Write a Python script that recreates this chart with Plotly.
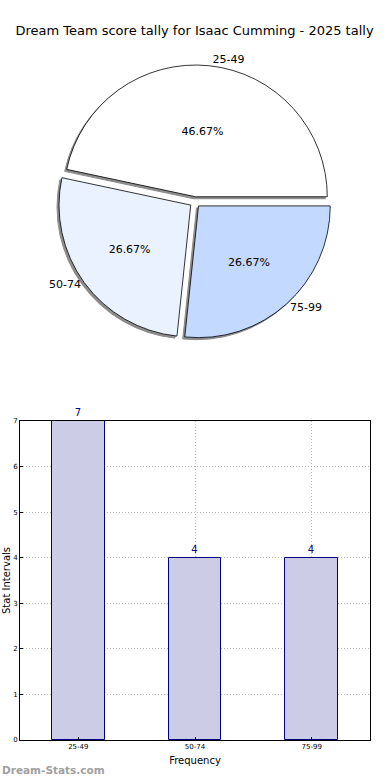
import plotly.graph_objects as go

categories = ["25-49", "50-74", "75-99"]
counts = [7, 4, 4]
pie_colors = ["#ffffff", "#eaf1ff", "#c4d9ff"]
y_ticks = [0, 1, 2, 3, 4, 5, 6, 7]
title_text = "Dream Team score tally for Isaac Cumming - 2025 tally"

FONT = "DejaVu Sans"
W, H = 390, 780


def px_x(x):
    return x / W


def px_y(y):
    return 1 - y / H


fig = go.Figure()

# pie geometry (pixels)
cx, cy, half = 195, 202, 137
pie_domain = dict(x=[px_x(cx - 180), px_x(cx + 180)], y=[px_y(cy + half), px_y(cy - half)])
shadow_domain = dict(x=[px_x(cx - 180 - 2), px_x(cx + 180 - 2)],
                     y=[px_y(cy + half + 2), px_y(cy - half + 2)])
pull = [0.04, 0.04, 0.04]
common = dict(labels=categories, values=counts, sort=False, direction="counterclockwise",
              rotation=-78, pull=pull, showlegend=False)

# shadow
fig.add_trace(go.Pie(
    **common, domain=shadow_domain,
    marker=dict(colors=["#8c8c8c"] * 3, line=dict(color="#8c8c8c", width=1)),
    textinfo="none", hoverinfo="skip",
))
# slices with percentages inside
fig.add_trace(go.Pie(
    **common, domain=pie_domain,
    marker=dict(colors=pie_colors, line=dict(color="black", width=0.8)),
    texttemplate="%{percent:.2%}", textposition="inside", insidetextorientation="horizontal",
    textfont=dict(family=FONT, size=11, color="black"),
    hoverinfo="label+percent",
))
# labels outside (transparent overlay)
fig.add_trace(go.Pie(
    **common, domain=pie_domain,
    marker=dict(colors=["rgba(0,0,0,0)"] * 3, line=dict(width=0)),
    texttemplate="%{label}", textposition="outside",
    textfont=dict(family=FONT, size=11, color="black"),
    hoverinfo="skip",
))

fig.add_trace(go.Bar(
    x=categories, y=counts, width=0.45,
    marker=dict(color="rgb(204,204,230)", line=dict(color="navy", width=1)),
    text=[str(c) for c in counts], textposition="outside",
    textfont=dict(family=FONT, size=10, color="navy"),
    cliponaxis=False, showlegend=False,
))

grid = dict(showgrid=True, gridcolor="#b8b8b8", griddash="1px,2px", gridwidth=1)

fig.update_layout(
    width=W, height=H,
    margin=dict(l=0, r=0, t=0, b=0, pad=0, autoexpand=False),
    paper_bgcolor="white", plot_bgcolor="white",
    font=dict(family=FONT, color="black"),
    title=dict(text=title_text, x=px_x(194.5), xanchor="center", y=px_y(30), yanchor="middle",
               font=dict(family=FONT, size=13, color="black")),
    xaxis=dict(domain=[px_x(20), px_x(370)], range=[-0.5, 2.5], type="category", automargin=False,
               showline=True, mirror=True, linecolor="black", linewidth=1,
               ticks="inside", ticklen=3, tickcolor="black",
               tickfont=dict(family=FONT, size=7),
               title=dict(text="Frequency", font=dict(family=FONT, size=10), standoff=6),
               fixedrange=True, **grid),
    yaxis=dict(domain=[px_y(740), px_y(421)], range=[0, 7], tickvals=y_ticks, automargin=False,
               showline=True, mirror=True, linecolor="black", linewidth=1,
               zeroline=False,
               ticks="inside", ticklen=3, tickcolor="black",
               tickfont=dict(family=FONT, size=7),
               title=dict(text="Stat Intervals", font=dict(family=FONT, size=10), standoff=0),
               fixedrange=True, **grid),
    bargap=0.0,
)

fig.add_annotation(text="<b>Dream-Stats.com</b>", xref="paper", yref="paper",
                   x=px_x(0), y=px_y(770), xanchor="left", yanchor="middle", showarrow=False,
                   font=dict(family=FONT, size=10.5, color="#a0a0a0"))

fig.write_html("out.html", config={"displayModeBar": False},
               post_script="document.body.style.margin='0';")
